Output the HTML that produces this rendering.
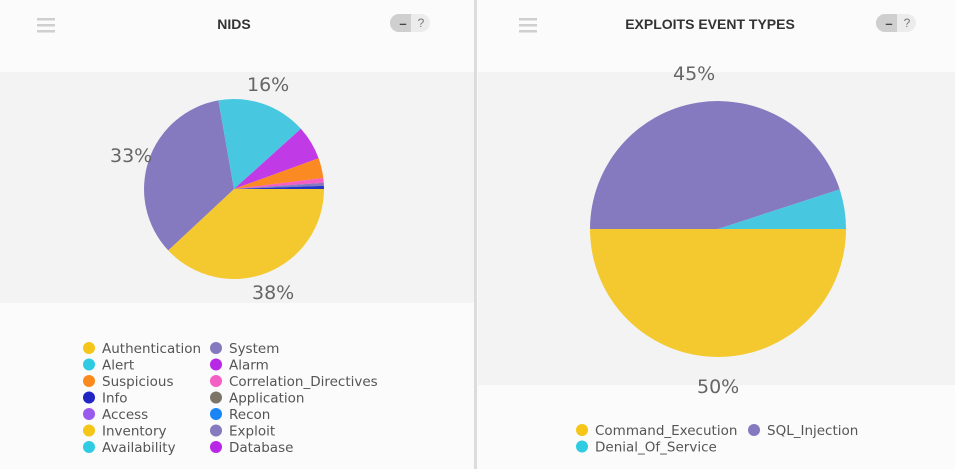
<!DOCTYPE html>
<html><head><meta charset="utf-8"><style>
body{margin:0;width:955px;height:469px;background:#fbfbfb;font-family:"Liberation Sans",sans-serif;overflow:hidden;position:relative}
</style></head><body>
<svg width="955" height="469" style="position:absolute;left:0;top:0" font-family="Liberation Sans, sans-serif">
<rect x="0" y="72" width="474" height="231" fill="#f3f3f3"/>
<rect x="478" y="72" width="477" height="313" fill="#f3f3f3"/>
<rect x="474" y="0" width="3" height="469" fill="#dcdcdc"/>
<g fill="#cfcfcf"><rect x="37" y="18" width="18" height="2.5"/><rect x="37" y="24" width="18" height="2.5"/><rect x="37" y="30" width="18" height="2.5"/>
<rect x="519" y="18" width="18" height="2.5"/><rect x="519" y="24" width="18" height="2.5"/><rect x="519" y="30" width="18" height="2.5"/></g>
<rect x="390" y="14" width="40" height="18" rx="9" fill="#ececec"/><path d="M399 14 h12 v18 h-12 a9 9 0 0 1 0 -18z" fill="#cfcfcf"/>
<text x="403" y="28" font-size="13" fill="#444" text-anchor="middle" font-weight="bold">–</text><text x="421" y="27" font-size="12" fill="#777" text-anchor="middle">?</text>
<rect x="876" y="14" width="40" height="18" rx="9" fill="#ececec"/><path d="M885 14 h12 v18 h-12 a9 9 0 0 1 0 -18z" fill="#cfcfcf"/>
<text x="889" y="28" font-size="13" fill="#444" text-anchor="middle" font-weight="bold">–</text><text x="907" y="27" font-size="12" fill="#777" text-anchor="middle">?</text>
<text x="234" y="29" font-size="14" font-weight="bold" fill="#333" text-anchor="middle">NIDS</text>
<text x="710" y="29" font-size="14" font-weight="bold" fill="#333" text-anchor="middle">EXPLOITS EVENT TYPES</text>
<path d="M234 189 L324 189 A90 90 0 0 1 168.2 250.4Z" fill="#f4c82f"/>
<path d="M234 189 L168.2 250.4 A90 90 0 0 1 218.4 100.4Z" fill="#8579bf"/>
<path d="M234 189 L218.4 100.4 A90 90 0 0 1 300.9 128.8Z" fill="#47c8e0"/>
<path d="M234 189 L300.9 128.8 A90 90 0 0 1 318.6 158.2Z" fill="#c03be6"/>
<path d="M234 189 L318.6 158.2 A90 90 0 0 1 323.3 178Z" fill="#fb8a23"/>
<path d="M234 189 L323.3 178 A90 90 0 0 1 323.8 182.7Z" fill="#f45fc4"/>
<path d="M234 189 L323.8 182.7 A90 90 0 0 1 323.9 185.9Z" fill="#8579bf"/>
<path d="M234 189 L323.9 185.9 A90 90 0 0 1 324 189Z" fill="#2534c8"/>
<path d="M718 229 L846 229 A128 128 0 0 1 590 229Z" fill="#f4c82f"/>
<path d="M718 229 L590 229 A128 128 0 0 1 839.7 189.4Z" fill="#8579bf"/>
<path d="M718 229 L839.7 189.4 A128 128 0 0 1 846 229Z" fill="#47c8e0"/>
<g font-size="19" fill="#666" font-family="DejaVu Sans, sans-serif">
<text x="247" y="91">16%</text><text x="110" y="162">33%</text><text x="252" y="299">38%</text>
<text x="673" y="80">45%</text><text x="697" y="393">50%</text></g>
<g font-size="13.5" fill="#555" font-family="DejaVu Sans, sans-serif">
<circle cx="89" cy="348" r="6" fill="#f5c518"/><text x="102" y="353">Authentication</text>
<circle cx="89" cy="364.5" r="6" fill="#2ecbe3"/><text x="102" y="369.5">Alert</text>
<circle cx="89" cy="381" r="6" fill="#fb8a1e"/><text x="102" y="386">Suspicious</text>
<circle cx="89" cy="397.5" r="6" fill="#2025c4"/><text x="102" y="402.5">Info</text>
<circle cx="89" cy="414" r="6" fill="#9a5af0"/><text x="102" y="419">Access</text>
<circle cx="89" cy="430.5" r="6" fill="#f5c518"/><text x="102" y="435.5">Inventory</text>
<circle cx="89" cy="447" r="6" fill="#2ecbe3"/><text x="102" y="452">Availability</text>
<circle cx="216" cy="348" r="6" fill="#8579bf"/><text x="229" y="353">System</text>
<circle cx="216" cy="364.5" r="6" fill="#b828e6"/><text x="229" y="369.5">Alarm</text>
<circle cx="216" cy="381" r="6" fill="#f45fc4"/><text x="229" y="386">Correlation_Directives</text>
<circle cx="216" cy="397.5" r="6" fill="#7c7466"/><text x="229" y="402.5">Application</text>
<circle cx="216" cy="414" r="6" fill="#1a86f5"/><text x="229" y="419">Recon</text>
<circle cx="216" cy="430.5" r="6" fill="#8579bf"/><text x="229" y="435.5">Exploit</text>
<circle cx="216" cy="447" r="6" fill="#b828e6"/><text x="229" y="452">Database</text>
<circle cx="582" cy="430" r="6" fill="#f5c518"/><text x="595" y="435">Command_Execution</text>
<circle cx="754" cy="430" r="6" fill="#8579bf"/><text x="767" y="435">SQL_Injection</text>
<circle cx="582" cy="446.5" r="6" fill="#2ecbe3"/><text x="595" y="451.5">Denial_Of_Service</text>
</g>
</svg>
</body></html>
